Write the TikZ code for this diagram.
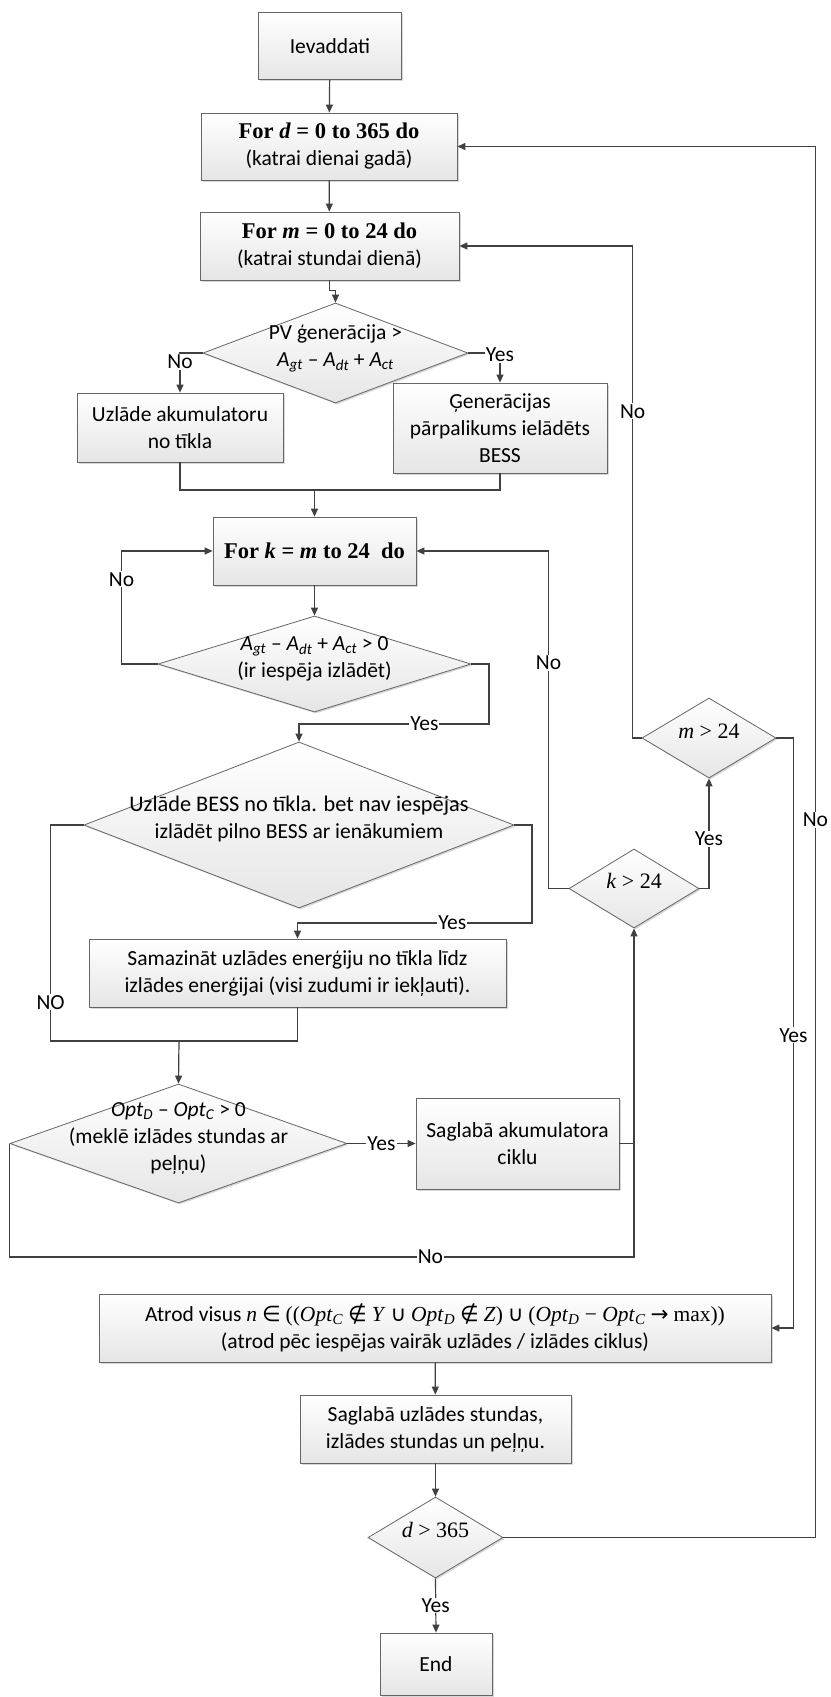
\documentclass[tikz,border=0pt]{standalone}
\usepackage{fontspec}
\setmainfont{Carlito}
\newfontfamily\tnr{Liberation Serif}
\newfontfamily\dvs{DejaVu Sans}
\usetikzlibrary{shapes.geometric,arrows.meta,shadows}

\newcommand{\fsz}{\fontsize{21.5}{27}\selectfont}
\newcommand{\tsz}{\fontsize{22.5}{27}\selectfont}
\newcommand{\dtext}[1]{\smash{\makebox[0pt]{\begin{tabular}{@{}c@{}}#1\end{tabular}}}}
\newcommand{\opt}[1]{\textit{Opt}\textsubscript{\textit{#1}}}
\newcommand{\agt}[1]{\textit{A\textsubscript{#1}}}

\tikzset{
  >={Triangle[length=8pt,width=7pt]},
  line/.style={draw=black!75, line width=1.2pt},
  box/.style={rectangle, draw=black!60, line width=0.8pt, top color=white, bottom color=black!10,
    drop shadow={shadow xshift=1.5pt, shadow yshift=-1.5pt, fill=black!30, opacity=.5},
    align=center, inner sep=0pt, font=\fsz},
  dec/.style={diamond, draw=black!60, line width=0.8pt, top color=white, bottom color=black!10,
    drop shadow={shadow xshift=1.5pt, shadow yshift=-1.5pt, fill=black!30, opacity=.5},
    inner sep=0pt, font=\fsz},
  lbl/.style={fill=white, inner sep=1pt, font=\fsz},
}

\begin{document}
\begin{tikzpicture}[x=1pt,y=-1pt]
  \fill[white] (0,0) rectangle (830,1697);
  \useasboundingbox (0,0) rectangle (830,1697);

  % boxes and decisions
  \node[box, minimum width=143pt, minimum height=67pt] (start) at (330,46) {Ievaddati};
  \node[box, minimum width=256pt, minimum height=67pt] (ford) at (329,146.5)
    {{\tnr\tsz\bfseries For \textit{d} = 0 to 365 do}\\(katrai dienai gadā)};
  \node[box, minimum width=259pt, minimum height=68pt] (form) at (329.5,246)
    {{\tnr\tsz\bfseries For \textit{m} = 0 to 24 do}\\(katrai stundai dienā)};
  \node[dec, minimum width=265pt, minimum height=100pt] (pvdec) at (335.5,353)
    {\dtext{PV ģenerācija >\\ \agt{gt} – \agt{dt} + \agt{ct}}};
  \node[box, minimum width=206pt, minimum height=69pt] (uzl) at (180,427.5)
    {Uzlāde akumulatoru\\no tīkla};
  \node[box, minimum width=214pt, minimum height=90pt] (gen) at (500,428)
    {Ģenerācijas\\pārpalikums ielādēts\\BESS};
  \node[box, minimum width=203pt, minimum height=68pt] (fork) at (314.5,551)
    {\tnr\tsz\bfseries For \textit{k} = \textit{m} to 24~ do};
  \node[dec, minimum width=313pt, minimum height=96pt] (kdec) at (314.5,664)
    {\dtext{\agt{gt} – \agt{dt} + \agt{ct} > 0\\(ir iespēja izlādēt)}};
  \node[dec, minimum width=430pt, minimum height=166pt] (bigdec) at (299,825)
    {\dtext{\fontsize{22.3}{28}\selectfont Uzlāde BESS no tīkla. bet nav iespējas\\izlādēt pilno BESS ar ienākumiem}};
  \node[box, minimum width=417pt, minimum height=68pt] (samaz) at (297.5,973)
    {Samazināt uzlādes enerģiju no tīkla līdz\\izlādes enerģijai (visi zudumi ir iekļauti).};
  \node[dec, minimum width=337pt, minimum height=119pt] (optdec) at (178.5,1143.5)
    {\dtext{\opt{D} – \opt{C} > 0\\(meklē izlādes stundas ar\\peļņu)}};
  \node[box, minimum width=203pt, minimum height=91pt] (sakum) at (517.5,1143.5)
    {Saglabā akumulatora\\ciklu};
  \node[dec, minimum width=130pt, minimum height=79pt] (kgt) at (634,888.5)
    {\dtext{\tnr\fontsize{22}{27}\selectfont\textit{k} > 24}};
  \node[dec, minimum width=134pt, minimum height=80pt] (mgt) at (709,738)
    {\dtext{\tnr\fontsize{22}{27}\selectfont\textit{m} > 24}};
  \node[box, minimum width=672pt, minimum height=68pt] (atrod) at (435,1328)
    {Atrod visus {\tnr\textit{n}} {\dvs ∈} {\tnr((\opt{C}} {\dvs ∉} {\tnr\textit{Y}} {\dvs ∪}
     {\tnr\opt{D}} {\dvs ∉} {\tnr\textit{Z})} {\dvs ∪} {\tnr(\opt{D} − \opt{C}} {\dvs →} {\tnr max))}\\
     (atrod pēc iespējas vairāk uzlādes / izlādes ciklus)};
  \node[box, minimum width=271pt, minimum height=68pt] (saguzl) at (435.5,1429)
    {Saglabā uzlādes stundas,\\izlādes stundas un peļņu.};
  \node[dec, minimum width=135pt, minimum height=81pt] (dgt) at (435.5,1537.5)
    {\dtext{\tnr\fontsize{22}{27}\selectfont\textit{d} > 365}};
  \node[box, minimum width=112pt, minimum height=62pt] (stop) at (436,1664) {End};

  % bend points
  \coordinate (mrg) at (314.5,490);
  \coordinate (ky) at (489,724);
  \coordinate (by) at (532,923);
  \coordinate (nob) at (179,1041);
  \coordinate (kb) at (634,1257);

  % connectors
  \draw[line,->] (start) -- (ford);
  \draw[line,->] (ford) -- (form);
  \draw[line,->] (form.south) -- ++(0,10) -| (pvdec.north);
  \draw[line,->] (pvdec.west) -| node[lbl,yshift=-9pt]{No} (uzl.north);
  \draw[line,->] (pvdec.east) -| node[lbl,yshift=-2pt]{Yes} (gen.north);
  \draw[line] (uzl.south) |- (mrg) -| (gen.south);
  \draw[line,->] (mrg) -- (fork.north);
  \draw[line,->] (fork) -- (kdec);
  \draw[line,->] (kdec.west) -- ++(-36,0) |- node[lbl,pos=0.375]{No} (fork.west);
  \draw[line,->] (kdec.east) -| (ky) -| node[lbl,pos=0.17]{Yes} (bigdec.north);
  \draw[line,->] (bigdec.east) -| (by) -| node[lbl,pos=0.17]{Yes} (samaz.north);
  \draw[line] (bigdec.west) -- ++(-33,0) |- node[lbl,pos=0.41]{NO} (nob);
  \draw[line] (samaz.south) |- (nob);
  \draw[line,->] (nob) -- (optdec.north);
  \draw[line,->] (optdec.east) -- node[lbl]{Yes} (sakum.west);
  \draw[line] (sakum.east) -- (sakum.east -| kb);
  \draw[line,->] (optdec.west) |- node[lbl,pos=0.837]{No} (kb) -- (kgt.south);
  \draw[line,->] (kgt.west) -- ++(-20,0) |- node[lbl,pos=0.334]{No} (fork.east);
  \draw[line,->] (kgt.east) -| node[lbl,pos=0.727]{Yes} (mgt.south);
  \draw[line,->] (mgt.west) -- ++(-9,0) |- node[lbl,pos=0.332]{No} (form.east);
  \draw[line,->] (mgt.east) -- ++(17,0) |- node[lbl,pos=0.252]{Yes} (atrod.east);
  \draw[line,->] (atrod) -- (saguzl);
  \draw[line,->] (saguzl) -- (dgt);
  \draw[line,->] (dgt.east) -- ++(312,0) |- node[lbl,pos=0.258]{No} (ford.east);
  \draw[line,->] (dgt.south) -- node[lbl]{Yes} (stop.north);
\end{tikzpicture}
\end{document}
